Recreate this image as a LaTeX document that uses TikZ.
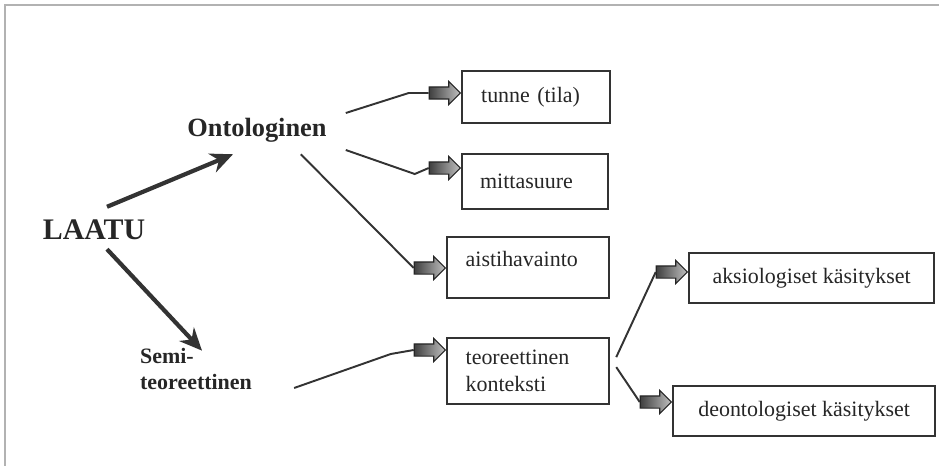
\documentclass[tikz,border=0pt]{standalone}
\usepackage{fontspec}
\setmainfont{Liberation Serif}
\usepackage{tikz}
\usetikzlibrary{shapes.arrows,arrows.meta,positioning,calc}

\begin{document}
\begin{tikzpicture}[x=0.02cm, y=-0.02cm,
  box/.style={rectangle, draw=black!80, line width=1.3pt, anchor=north west, inner xsep=0.36cm, text=black!85, font=\fontsize{12.5}{15.3}\selectfont},
  blk/.style={single arrow, draw=black!85, line width=0.6pt, left color=black!75, right color=gray!50, inner sep=0.11cm, minimum height=0.62cm, single arrow head extend=0.11cm, anchor=tip},
  conn/.style={draw=black!80, line width=1.1pt},
  big/.style={draw=black!80, line width=2.4pt, -{Stealth[length=0.45cm,width=0.4cm]}},
  lbl/.style={text=black!85}]
  \useasboundingbox (0,0) rectangle (939,466);
  % frame
  \draw[gray!60, line width=1.5pt] (5,466) -- (5,5) -- (939,5);

  % left part
  \node[lbl, font=\bfseries\fontsize{17}{20}\selectfont] (laatu) at (94,230) {LAATU};
  \node[lbl, font=\bfseries\fontsize{15}{18}\selectfont] (onto) at (257,130) {Ontologinen};
  \node[lbl, font=\bfseries\fontsize{12.5}{15.3}\selectfont, align=left] (semi) at (196,369) {Semi-\\teoreettinen};

  % boxes
  \node[box, minimum width=2.96cm, minimum height=1.04cm, text width=2.2cm, align=left] (tunne) at (461,70) {tunne (tila)};
  \node[box, minimum width=2.92cm, minimum height=1.1cm, text width=2.2cm, align=left] (mitta) at (461,153) {mittasuure};
  \node[box, minimum width=3.24cm, minimum height=1.22cm, text width=2.5cm, text depth=0.34cm, align=left] (aisti) at (446,236) {aistihavainto};
  \node[box, minimum width=3.24cm, minimum height=1.32cm, text width=2.5cm, align=left] (teo) at (446,337) {teoreettinen\\konteksti};
  \node[box, minimum width=4.9cm, minimum height=1cm, align=center] (aksio) at (688,252) {aksiologiset käsitykset};
  \node[box, minimum width=5.24cm, minimum height=1cm, align=center] (deonto) at (672,385) {deontologiset käsitykset};

  % block arrows
  \node[blk] (tA) at (461,93) {};
  \node[blk] (tB) at (461,168) {};
  \node[blk] (tC) at (446,268) {};
  \node[blk] (tD) at (446,350) {};
  \node[blk] (tE) at (688,272) {};
  \node[blk] (tF) at (672,402) {};

  % big arrows
  \draw[big] ($(laatu.north)+(13,-7)$) -- ($(onto.south)+(-24,6)$);
  \draw[big] ($(laatu.south)+(13,3)$) -- ($(semi.north)+(6,9)$);

  % connectors
  \draw[conn] ($(onto.east)+(13,-17)$) -- ($(tA.tail)+(-20,0)$) -- (tA.tail);
  \draw[conn] ($(onto.east)+(13,20)$) -- ($(tB.tail)+(-14,6)$) -- (tB.tail);
  \draw[conn] ($(onto.south east)+(-32,6)$) -- (tC.tail);
  \draw[conn] ($(semi.east)+(36,19)$) -- ($(tD.tail)+(-23,4)$) -- (tD.tail);
  \draw[conn] ($(teo.east)+(6,-14)$) -- (tE.tail);
  \draw[conn] ($(teo.east)+(6,-4)$) -- (tF.tail);
\end{tikzpicture}
\end{document}
